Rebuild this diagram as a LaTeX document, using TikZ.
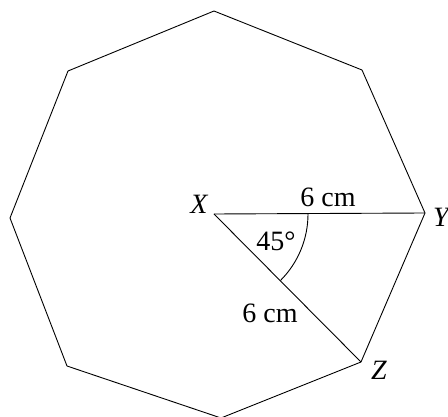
\documentclass[tikz,border=0pt]{standalone}
\usepackage{fontspec}
\setmainfont{Liberation Serif}
\begin{document}
\begin{tikzpicture}[x=1pt,y=-1pt,
  edge/.style={line width=0.9pt, line join=miter},
  lbl/.style={inner sep=0pt, anchor=base, font=\fontsize{28}{32}\selectfont}]
\useasboundingbox (0,0) rectangle (448,417);
\coordinate (T) at (214,11);
\coordinate (UR) at (362,70);
\coordinate (Y) at (425,213);
\coordinate (Z) at (361,362);
\coordinate (B) at (221,418);
\coordinate (LL) at (67,366);
\coordinate (L) at (10,218);
\coordinate (UL) at (68,71);
\coordinate (X) at (214,214);
\draw[edge] (T) -- (UR) -- (Y) -- (Z) -- (B) -- (LL) -- (L) -- (UL) -- cycle;
\draw[edge] (X) -- (Y);
\draw[edge] (X) -- (Z);
\draw[edge] ([xshift=94pt]X) arc[start angle=0, end angle=45, radius=94];
\node[lbl] (xl) at (199,214) {\itshape X};
\node[lbl] (yl) at (441,227) {\itshape Y};
\node[lbl] (zl) at (379,380) {\itshape Z};
\node[lbl] (a) at (328,207) {6 cm};
\node[lbl] (b) at (270,323) {6 cm};
\node[lbl] (c) at (276,251) {45°};
\end{tikzpicture}
\end{document}
